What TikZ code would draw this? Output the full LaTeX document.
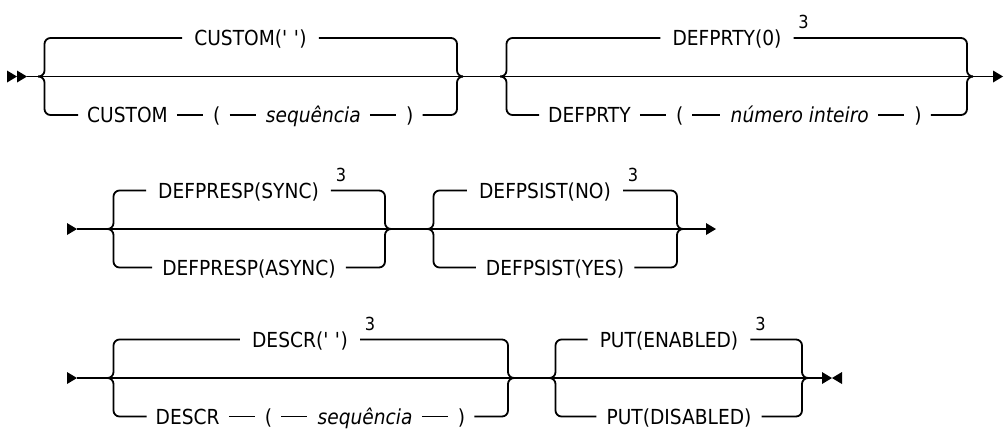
\documentclass[tikz,border=0pt]{standalone}
\usepackage{fontspec}
\setmainfont{DejaVu Sans}[FakeStretch=0.9]
\begin{document}
\begin{tikzpicture}[x=1pt,y=-1pt,
  ln/.style={line width=1.8pt},
  br/.style={ln, rounded corners=6pt},
  dsh/.style={ln, shorten <=9pt, shorten >=10pt},
  txt/.style={font=\fontsize{20.7}{24}\selectfont, inner sep=0pt, text height=15.1pt, text depth=0pt},
  itx/.style={txt, font=\fontsize{20.7}{24}\selectfont\itshape},
  supx/.style={font=\fontsize{18}{21}\selectfont, inner sep=0pt},
  wtxt/.style={txt, anchor=west},
  witx/.style={itx, anchor=west}
]
\useasboundingbox (0,0) rectangle (1006,429);

% ================= ROW 1 =================
\fill (7,70.5) -- (17,76.5) -- (7,82.5) -- cycle;
\fill (17,70.5) -- (27,76.5) -- (17,82.5) -- cycle;
\fill (993,70.5) -- (1003,76.5) -- (993,82.5) -- cycle;
\coordinate (r1s) at (27,76.5);
\coordinate (r1e) at (993,76.5);
\draw[ln] (r1s) -- (r1e);

% group CUSTOM
\coordinate (c1l) at (38,76.5);
\coordinate (c1r) at (463,76.5);
\node[txt] (t1a) at (250.5,38) {CUSTOM(\textquotesingle\ \textquotesingle)};
\draw[br] (c1l) -- (44.5,76.5) -- (44.5,38) -- ([xshift=-12pt]t1a.west);
\draw[br] ([xshift=12pt]t1a.east) -- (457,38) -- (457,76.5) -- (c1r);
\node[wtxt] (b1a) at (87,115) {CUSTOM};
\node[wtxt] (b1b) at ([xshift=45pt]b1a.east) {(};
\node[witx] (b1c) at ([xshift=45pt]b1b.east) {sequência};
\node[wtxt] (b1d) at ([xshift=45pt]b1c.east) {)};
\draw[br] (c1l) -- (44.5,76.5) -- (44.5,115) -- ([xshift=-9pt]b1a.west);
\draw[dsh] (b1a.east) -- (b1b.west);
\draw[dsh] (b1b.east) -- (b1c.west);
\draw[dsh] (b1c.east) -- (b1d.west);
\draw[br] ([xshift=9pt]b1d.east) -- (457,115) -- (457,76.5) -- (c1r);

% group DEFPRTY
\coordinate (c2l) at (500,76.5);
\coordinate (c2r) at (973,76.5);
\node[txt] (t1b) at (727,38) {DEFPRTY(0)};
\node[supx] (s1b) at ([xshift=22pt,yshift=16pt]t1b.east) {3};
\draw[br] (c2l) -- (506.5,76.5) -- (506.5,38) -- ([xshift=-12pt]t1b.west);
\draw[br] ([xshift=12pt]t1b.east) -- (967,38) -- (967,76.5) -- (c2r);
\node[wtxt] (b1e) at (548,115) {DEFPRTY};
\node[wtxt] (b1f) at ([xshift=45pt]b1e.east) {(};
\node[witx] (b1g) at ([xshift=47pt]b1f.east) {número inteiro};
\node[wtxt] (b1h) at ([xshift=45pt]b1g.east) {)};
\draw[br] (c2l) -- (506.5,76.5) -- (506.5,115) -- ([xshift=-9pt]b1e.west);
\draw[dsh] (b1e.east) -- (b1f.west);
\draw[dsh] (b1f.east) -- (b1g.west);
\draw[dsh] (b1g.east) -- (b1h.west);
\draw[br] ([xshift=9pt]b1h.east) -- (967,115) -- (967,76.5) -- (c2r);

% ================= ROW 2 =================
\fill (67,223) -- (77,229) -- (67,235) -- cycle;
\fill (706,223) -- (716,229) -- (706,235) -- cycle;
\coordinate (r2s) at (77,229);
\coordinate (r2e) at (706,229);
\draw[ln] (r2s) -- (r2e);

% group DEFPRESP
\coordinate (c3l) at (107,229);
\coordinate (c3r) at (391,229);
\node[txt] (t2a) at (238.5,190.5) {DEFPRESP(SYNC)};
\node[supx] (s2a) at ([xshift=22pt,yshift=16pt]t2a.east) {3};
\draw[br] (c3l) -- (113.5,229) -- (113.5,190.5) -- ([xshift=-12pt]t2a.west);
\draw[br] ([xshift=12pt]t2a.east) -- (385,190.5) -- (385,229) -- (c3r);
\node[txt] (b2a) at (249,267.5) {DEFPRESP(ASYNC)};
\draw[br] (c3l) -- (113.5,229) -- (113.5,267.5) -- ([xshift=-10pt]b2a.west);
\draw[br] ([xshift=10pt]b2a.east) -- (385,267.5) -- (385,229) -- (c3r);

% group DEFPSIST
\coordinate (c4l) at (427,229);
\coordinate (c4r) at (683,229);
\node[txt] (t2b) at (545,190.5) {DEFPSIST(NO)};
\node[supx] (s2b) at ([xshift=22pt,yshift=16pt]t2b.east) {3};
\draw[br] (c4l) -- (433.5,229) -- (433.5,190.5) -- ([xshift=-12pt]t2b.west);
\draw[br] ([xshift=12pt]t2b.east) -- (677,190.5) -- (677,229) -- (c4r);
\node[txt] (b2b) at (555,267.5) {DEFPSIST(YES)};
\draw[br] (c4l) -- (433.5,229) -- (433.5,267.5) -- ([xshift=-10pt]b2b.west);
\draw[br] ([xshift=10pt]b2b.east) -- (677,267.5) -- (677,229) -- (c4r);

% ================= ROW 3 =================
\fill (67,372) -- (77,378) -- (67,384) -- cycle;
\fill (822,372) -- (832,378) -- (822,384) -- cycle;
\fill (842,372) -- (832,378) -- (842,384) -- cycle;
\coordinate (r3s) at (77,378);
\coordinate (r3e) at (822,378);
\draw[ln] (r3s) -- (r3e);

% group DESCR
\coordinate (c5l) at (107,378);
\coordinate (c5r) at (514,378);
\node[txt] (t3a) at (300,339.5) {DESCR(\textquotesingle\ \textquotesingle)};
\node[supx] (s3a) at ([xshift=22pt,yshift=16pt]t3a.east) {3};
\draw[br] (c5l) -- (113.5,378) -- (113.5,339.5) -- ([xshift=-12pt]t3a.west);
\draw[br] ([xshift=12pt]t3a.east) -- (508,339.5) -- (508,378) -- (c5r);
\node[wtxt] (b3a) at (155.5,416.5) {DESCR};
\node[wtxt] (b3b) at ([xshift=45pt]b3a.east) {(};
\node[witx] (b3c) at ([xshift=45pt]b3b.east) {sequência};
\node[wtxt] (b3d) at ([xshift=45pt]b3c.east) {)};
\draw[br] (c5l) -- (113.5,378) -- (113.5,416.5) -- ([xshift=-9pt]b3a.west);
\draw[dsh] (b3a.east) -- (b3b.west);
\draw[dsh] (b3b.east) -- (b3c.west);
\draw[dsh] (b3c.east) -- (b3d.west);
\draw[br] ([xshift=9pt]b3d.east) -- (508,416.5) -- (508,378) -- (c5r);

% group PUT
\coordinate (c6l) at (549,378);
\coordinate (c6r) at (808,378);
\node[txt] (t3b) at (669,339.5) {PUT(ENABLED)};
\node[supx] (s3b) at ([xshift=22pt,yshift=16pt]t3b.east) {3};
\draw[br] (c6l) -- (555.5,378) -- (555.5,339.5) -- ([xshift=-12pt]t3b.west);
\draw[br] ([xshift=12pt]t3b.east) -- (802,339.5) -- (802,378) -- (c6r);
\node[txt] (b3e) at (679,416.5) {PUT(DISABLED)};
\draw[br] (c6l) -- (555.5,378) -- (555.5,416.5) -- ([xshift=-10pt]b3e.west);
\draw[br] ([xshift=10pt]b3e.east) -- (802,416.5) -- (802,378) -- (c6r);
\end{tikzpicture}
\end{document}
